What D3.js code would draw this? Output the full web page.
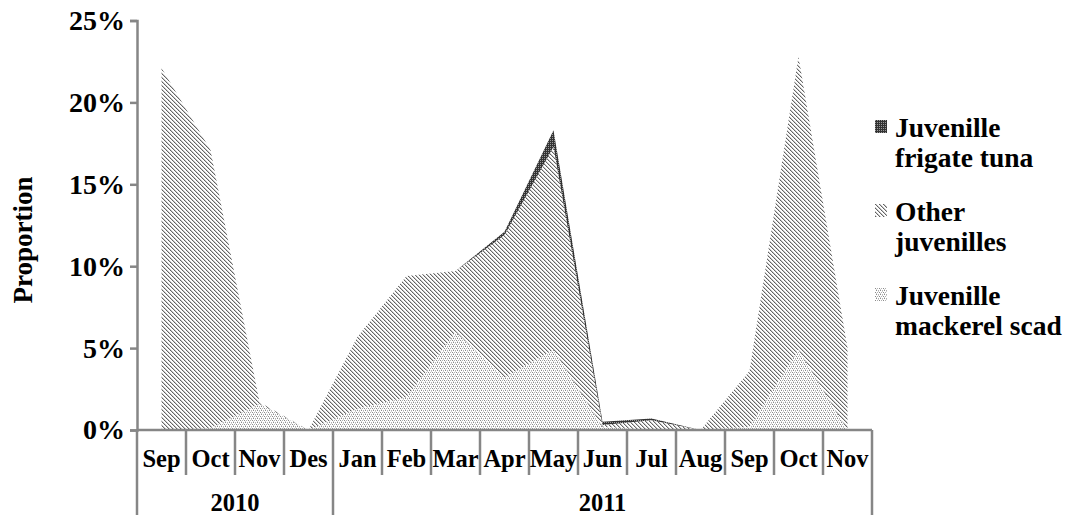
<!DOCTYPE html>
<html>
<head>
<meta charset="utf-8">
<script src="https://cdn.jsdelivr.net/npm/d3@7"></script>
<style>
  body { margin: 0; background: #fff; }
  svg { display: block; font-family: "Liberation Serif", "Times New Roman", serif; font-weight: bold; }
</style>
</head>
<body>
<svg width="1066" height="515"></svg>
<script>
// month categories, two year groups
const months = ["Sep", "Oct", "Nov", "Des", "Jan", "Feb", "Mar", "Apr", "May", "Jun", "Jul", "Aug", "Sep", "Oct", "Nov"];
const yearLabels = ["2010", "2011"];
const yearSpans = [4, 11];

// proportions in %
const mackerelScad = [0, 0.1, 1.6, 0, 1.3, 2.0, 6.0, 3.2, 4.9, 0.2, 0, 0, 0.2, 4.9, 0];
const otherJuv = [22.1, 17.0, 0.1, 0, 4.4, 7.4, 3.7, 8.7, 12.4, 0.1, 0.6, 0, 3.4, 17.9, 5.0];
const frigateTuna = [0, 0, 0, 0, 0, 0, 0, 0.2, 1.0, 0.2, 0.1, 0, 0, 0, 0];

const yTicks = [0, 5, 10, 15, 20, 25];

const data = months.map((m, i) => ({ i: i, mackerel: mackerelScad[i], other: otherJuv[i], frigate: frigateTuna[i] }));

var svg = d3.select("svg");
var axisColor = "#868686";

// patterns
var defs = svg.append("defs");
var pOther = defs.append("pattern").attr("id", "pat-other")
  .attr("patternUnits", "userSpaceOnUse").attr("width", 4).attr("height", 4);
pOther.append("rect").attr("width", 4).attr("height", 4).attr("fill", "#fff");
[[0, 0, "#606060"], [1, 1, "#707070"], [2, 2, "#606060"], [3, 3, "#707070"]].forEach(p => {
  pOther.append("rect").attr("x", p[0]).attr("y", p[1]).attr("width", 1).attr("height", 1).attr("fill", p[2]);
});
[[1, 0], [2, 1], [3, 2], [0, 3]].forEach(p => {
  pOther.append("rect").attr("x", p[0]).attr("y", p[1]).attr("width", 1).attr("height", 1).attr("fill", "#c8c8c8");
});

var pMack = defs.append("pattern").attr("id", "pat-mack")
  .attr("patternUnits", "userSpaceOnUse").attr("width", 4).attr("height", 4);
pMack.append("rect").attr("width", 4).attr("height", 4).attr("fill", "#fff");
[[0, 0, "#8a8a8a"], [2, 0, "#b0b0b0"], [1, 2, "#8a8a8a"], [3, 2, "#b0b0b0"], [1, 1, "#d0d0d0"], [3, 3, "#d0d0d0"]].forEach(p => {
  pMack.append("rect").attr("x", p[0]).attr("y", p[1]).attr("width", 1).attr("height", 1).attr("fill", p[2]);
});

var pFrig = defs.append("pattern").attr("id", "pat-frig")
  .attr("patternUnits", "userSpaceOnUse").attr("width", 2).attr("height", 2);
pFrig.append("rect").attr("width", 2).attr("height", 2).attr("fill", "#333");
pFrig.append("rect").attr("width", 1).attr("height", 1).attr("fill", "#999");

var fills = { mackerel: "url(#pat-mack)", other: "url(#pat-other)", frigate: "url(#pat-frig)" };

var x = d3.scaleBand().domain(d3.range(months.length)).range([137, 872]).paddingInner(0).paddingOuter(0);
var y = d3.scaleLinear().domain([0, 25]).range([430, 20.5]);
var cx = i => x(i) + x.bandwidth() / 2;

// stacked areas
var stack = d3.stack().keys(["mackerel", "other", "frigate"]);
var series = stack(data);

var area = d3.area()
  .x(d => cx(d.data.i))
  .y0(d => y(d[0]))
  .y1(d => y(d[1]));

svg.append("g").selectAll("path")
  .data(series)
  .join("path")
  .attr("fill", d => fills[d.key])
  .attr("d", area);

// y axis
var yAxis = svg.append("g")
  .attr("transform", "translate(137,0)")
  .call(d3.axisLeft(y).tickValues(yTicks).tickSize(7).tickPadding(5).tickFormat(d => d + "%"));
yAxis.select(".domain").attr("stroke", axisColor).attr("stroke-width", 2.5);
yAxis.selectAll(".tick line").attr("stroke", axisColor).attr("stroke-width", 2.5);
yAxis.selectAll(".tick text")
  .attr("font-family", "Liberation Serif, serif")
  .attr("font-weight", "bold")
  .attr("font-size", 28)
  .attr("fill", "#000");

svg.append("text")
  .attr("transform", "translate(32,240) rotate(-90)")
  .attr("text-anchor", "middle")
  .attr("font-size", 27)
  .text("Proportion");

// x axis: baseline, category separators, labels
var xg = svg.append("g");
xg.append("line")
  .attr("x1", 137).attr("x2", 872).attr("y1", y(0)).attr("y2", y(0))
  .attr("stroke", axisColor).attr("stroke-width", 2.5);

var yearBounds = [0];
yearSpans.forEach((s, k) => yearBounds.push(yearBounds[k] + s));

xg.selectAll(".sep")
  .data(d3.range(months.length + 1))
  .join("line")
  .attr("x1", i => i < months.length ? x(i) : x.range()[1])
  .attr("x2", i => i < months.length ? x(i) : x.range()[1])
  .attr("y1", y(0))
  .attr("y2", i => yearBounds.includes(i) ? 515 : 475)
  .attr("stroke", axisColor).attr("stroke-width", 2.5);

xg.selectAll(".mlab")
  .data(months)
  .join("text")
  .attr("x", (d, i) => cx(i))
  .attr("y", 467)
  .attr("text-anchor", "middle")
  .attr("font-size", 24.5)
  .text(d => d);

xg.selectAll(".ylab")
  .data(yearLabels)
  .join("text")
  .attr("x", (d, k) => {
    var a = x(yearBounds[k]);
    var b = yearBounds[k + 1] < months.length ? x(yearBounds[k + 1]) : x.range()[1];
    return (a + b) / 2;
  })
  .attr("y", 511)
  .attr("text-anchor", "middle")
  .attr("font-size", 24.5)
  .text(d => d);

// legend
var legendItems = [
  { key: "frigate", lines: ["Juvenille", "frigate tuna"] },
  { key: "other", lines: ["Other", "juvenilles"] },
  { key: "mackerel", lines: ["Juvenille", "mackerel scad"] }
];
var lg = svg.append("g").selectAll("g")
  .data(legendItems)
  .join("g")
  .attr("transform", (d, k) => "translate(875," + (120 + k * 84) + ")");
lg.append("rect")
  .attr("width", 12).attr("height", 13)
  .attr("fill", d => fills[d.key]);
lg.append("text")
  .attr("x", 20)
  .attr("font-size", 27.5)
  .selectAll("tspan")
  .data(d => d.lines)
  .join("tspan")
  .attr("x", 20)
  .attr("y", (d, j) => 17 + j * 30)
  .text(d => d);
</script>
</body>
</html>
